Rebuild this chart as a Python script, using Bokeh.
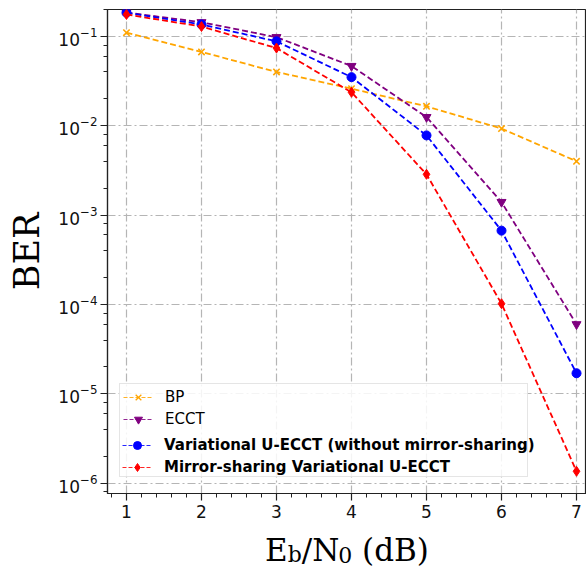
import math
from bokeh.plotting import figure
from bokeh.layouts import column
from bokeh.models import (Range1d, SingleIntervalTicker, LogTicker, Legend, LegendItem)
from bokeh.core.properties import value
from bokeh.embed import file_html
from bokeh.resources import INLINE

# ---------------- data ----------------
ebn0 = [1, 2, 3, 4, 5, 6, 7]
ber_bp = [0.110, 0.067, 0.040, 0.026, 0.0165, 0.0093, 0.0040]
ber_ecct = [0.185, 0.144, 0.098, 0.0466, 0.0125, 0.0014, 6.0e-5]
ber_var = [0.184, 0.136, 0.088, 0.035, 0.0078, 6.7e-4, 1.7e-5]
ber_mirror = [0.176, 0.129, 0.074, 0.0237, 0.00286, 1.02e-4, 1.36e-6]

series_names = ["BP", "ECCT",
                "Variational U-ECCT (without mirror-sharing)",
                "Mirror-sharing Variational U-ECCT"]
series_values = [ber_bp, ber_ecct, ber_var, ber_mirror]
series_colors = ["#FFA500", "#800080", "#0000FF", "#FF0000"]
series_markers = ["x", "inverted_triangle", "circle", "diamond"]
marker_sizes = [9, 9, 9, 10]
legend_marker_sizes = [6, 6, 6, 7]
bold_flags = [False, False, True, True]

x_label_pieces = ["E", "b", "/N", "0", " (dB)"]
x_label_is_sub = [False, True, False, True, False]

x_start, x_end = 0.747, 7.133
y_start, y_end = 7.67e-7, 0.2

W = 586
H_MAIN = 528
H_LAB = 44
BL, BR, BT, BB = 107, 0, 9, 35

p = figure(width=W, height=H_MAIN, x_range=Range1d(x_start, x_end),
           y_range=Range1d(y_start, y_end), y_axis_type="log",
           output_backend="svg", toolbar_location=None,
           min_border_left=BL, min_border_right=BR, min_border_top=BT,
           min_border_bottom=BB)
p.background_fill_color = "white"
p.border_fill_color = "white"
p.outline_line_color = "#222222"
p.outline_line_width = 1.2

# axes
p.xaxis.ticker = SingleIntervalTicker(interval=1, num_minor_ticks=5)
p.yaxis.ticker = LogTicker(desired_num_ticks=8)
for ax in [p.xaxis[0], p.yaxis[0]]:
    ax.major_label_text_font = "DejaVu Sans"
    ax.major_label_text_font_size = "17px"
    ax.major_label_text_color = "#111111"
    ax.major_tick_out = 7
    ax.major_tick_in = 0
    ax.minor_tick_out = 4
    ax.minor_tick_in = 0
    ax.axis_line_color = "#222222"
    ax.axis_line_width = 1.2
    ax.major_tick_line_color = "#222222"
    ax.major_tick_line_width = 1.2
    ax.minor_tick_line_color = "#222222"
    ax.minor_tick_line_width = 1
p.xaxis.major_label_standoff = 4
p.yaxis.major_label_standoff = 3

p.yaxis.axis_label = "BER"
p.yaxis.axis_label_text_font = "DejaVu Serif"
p.yaxis.axis_label_text_font_size = "35px"
p.yaxis.axis_label_text_font_style = "normal"
p.yaxis.axis_label_text_color = "black"
p.yaxis.axis_label_standoff = 8

# grid
p.grid.grid_line_color = "#b5b5b5"
p.grid.grid_line_dash = "8 3 2 3"
p.grid.grid_line_width = 1.2
p.grid.minor_grid_line_color = None

# series
leg_renderers = []
blank_renderers = []
for name, vals, col, mk, ms, lms in zip(series_names, series_values, series_colors,
                                        series_markers, marker_sizes, legend_marker_sizes):
    p.line(ebn0, vals, line_color=col, line_width=1.8, line_dash="6 3")
    p.scatter(ebn0, vals, marker=mk, size=ms, fill_color=col, line_color=col,
              line_width=1.6 if mk == "x" else 1)
    # legend proxies: same data, hidden in the plot, drawn only in the legend
    lr = p.line(ebn0, vals, line_color=col, line_width=1.2, line_dash="4 2",
                line_alpha=0.85, visible=False)
    sr = p.scatter(ebn0, vals, marker=mk, size=lms, fill_color=col, line_color=col,
                   line_width=1.3 if mk == "x" else 1, visible=False)
    leg_renderers.append([lr, sr])
    br = p.line(ebn0, vals, line_alpha=0.0, visible=False)
    blank_renderers.append([br])

common = dict(glyph_width=30, glyph_height=20, label_height=20,
              label_standoff=12, label_width=359, padding=3, spacing=2, margin=0,
              label_text_font="DejaVu Sans", label_text_font_size="15px",
              label_text_color="black", click_policy="none")

items_a = []
for name, rs, brs, b in zip(series_names, leg_renderers, blank_renderers, bold_flags):
    items_a.append(LegendItem(label=(" " if b else name), renderers=(brs if b else rs)))
leg_a = Legend(items=items_a, location=(12, 16), border_line_color="#cccccc",
               border_line_width=1, background_fill_color="white",
               background_fill_alpha=0.85, label_text_font_style="normal", **common)
items_b = [LegendItem(label=name, renderers=rs)
           for name, rs, b in zip(series_names, leg_renderers, bold_flags) if b]
leg_b = Legend(items=items_b, location=(15, 16), border_line_color=None,
               background_fill_alpha=0.0, label_text_font_style="bold", **common)
p.add_layout(leg_a, "center")
p.add_layout(leg_b, "center")

# ---------------- x-axis label strip: E_b/N_0 (dB) ----------------
q = figure(width=W, height=H_LAB, x_range=Range1d(BL, W), y_range=Range1d(0, H_LAB),
           output_backend="svg", toolbar_location=None,
           x_axis_location=None, y_axis_location=None,
           min_border_left=BL, min_border_right=BR, min_border_top=0, min_border_bottom=0)
q.grid.visible = False
q.outline_line_color = None
q.background_fill_color = "white"
q.border_fill_color = "white"

main_fs, sub_fs = 31, 22
adv = {"E": 0.730, "b": 0.640, "/": 0.337, "N": 0.837, "0": 0.636, " ": 0.318,
       "(": 0.390, "d": 0.640, "B": 0.735, ")": 0.390}
widths = [sum(adv[c] for c in t) * (sub_fs if s else main_fs)
          for t, s in zip(x_label_pieces, x_label_is_sub)]
frame_center = BL + (W - BL - BR) / 2.0
xpos = frame_center - sum(widths) / 2.0
baseline = 23
main_x, main_t, sub_x, sub_t = [], [], [], []
for t, s, w in zip(x_label_pieces, x_label_is_sub, widths):
    fs = sub_fs if s else main_fs
    lead = (len(t) - len(t.lstrip(" "))) * adv[" "] * fs
    if s:
        sub_x.append(xpos + lead); sub_t.append(t.strip())
    else:
        main_x.append(xpos + lead); main_t.append(t.strip())
    xpos += w
q.text(x=main_x, y=[baseline] * len(main_x), text=main_t,
       text_font=value("DejaVu Serif"), text_font_size=f"{main_fs}px",
       text_align="left", text_baseline="alphabetic", text_color="black")
q.text(x=sub_x, y=[baseline - 5] * len(sub_x), text=sub_t,
       text_font=value("DejaVu Serif"), text_font_size=f"{sub_fs}px",
       text_align="left", text_baseline="alphabetic", text_color="black")

layout = column(p, q, spacing=0)
open("out.html", "w").write(file_html(layout, INLINE))
